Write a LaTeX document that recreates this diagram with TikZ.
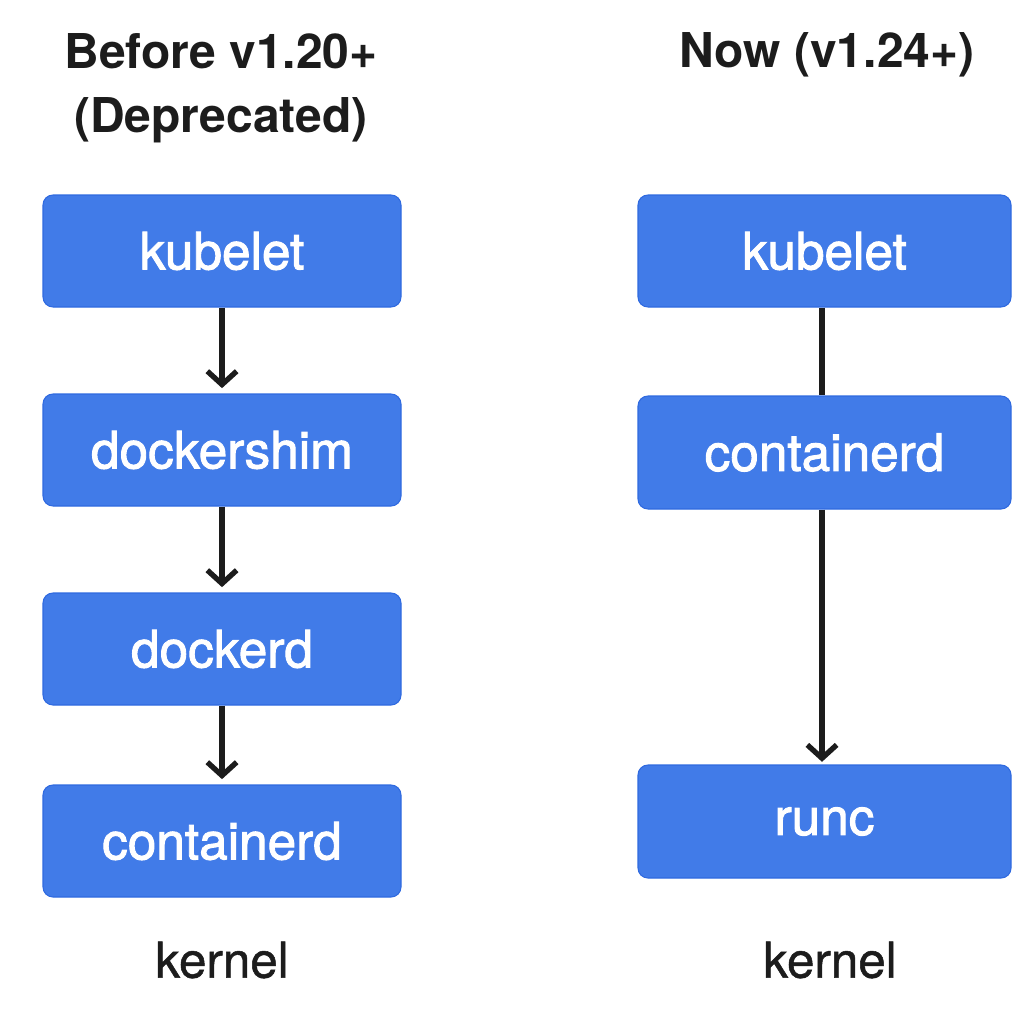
\documentclass[tikz,border=0pt]{standalone}
\usepackage{fontspec}
\setmainfont{TeX Gyre Heros}
\newfontfamily\medfont{TeX Gyre Heros}[FakeBold=1.8]
\newfontfamily\lightmedfont{TeX Gyre Heros}[FakeBold=1.0]
\usetikzlibrary{arrows.meta}
\definecolor{boxblue}{HTML}{417BE8}
\definecolor{boxedge}{HTML}{2F6AE0}
\definecolor{ink}{HTML}{1C1C1C}
\tikzset{
  box/.style={draw=boxedge, line width=0.8pt, fill=boxblue, rounded corners=7.5pt, text=white, inner sep=0pt, font=\fontsize{38.5}{46}\medfont},
  title/.style={text=ink, align=center, font=\fontsize{36}{48}\selectfont\bfseries},
  plain/.style={text=ink, font=\fontsize{37}{44}\lightmedfont},
  conn/.style={draw=ink, line width=4pt},
  arr/.style={conn, -{Straight Barb[length=10pt,width=22pt,line width=4pt]}, shorten >=4pt}
}
\begin{document}
\begin{tikzpicture}[x=0.75pt,y=-0.75pt]
\path[use as bounding box, fill=white] (0,0) rectangle (1024,1024);
% titles
\node[title] (t1) at (221,88) {Before v1.20+\\(Deprecated)};
\node[title] (t2) at (827,55) {Now (v1.24+)};
% left column
\node[box, minimum width=358*0.75pt, minimum height=112*0.75pt] (lk) at (222,251) {kubelet};
\node[box, minimum width=358*0.75pt, minimum height=112*0.75pt] (ld) at (222,450) {dockershim};
\node[box, minimum width=358*0.75pt, minimum height=112*0.75pt] (ldd) at (222,649) {dockerd};
\node[box, minimum width=358*0.75pt, minimum height=112*0.75pt] (lc) at (222,841) {containerd};
\node[plain] (lkern) at (222,960) {kernel};
% right column
\node[box, minimum width=373*0.75pt, minimum height=112*0.75pt] (rk) at (824.5,251) {kubelet};
\node[box, minimum width=373*0.75pt, minimum height=113*0.75pt] (rc) at (824.5,452.5) {containerd};
\node[box, minimum width=373*0.75pt, minimum height=113*0.75pt] (rr) at (824.5,821.5) {runc};
\node[plain] (rkern) at (830,960) {kernel};
% connectors
\draw[arr] (lk.south) -- (ld.north);
\draw[arr] (ld.south) -- (ldd.north);
\draw[arr] (ldd.south) -- (lc.north);
\draw[conn] ([xshift=-2.5*0.75pt]rk.south) -- ([xshift=-2.5*0.75pt]rc.north);
\draw[arr, shorten >=2pt] ([xshift=-2.5*0.75pt]rc.south) -- ([xshift=-2.5*0.75pt]rr.north);
\end{tikzpicture}
\end{document}
